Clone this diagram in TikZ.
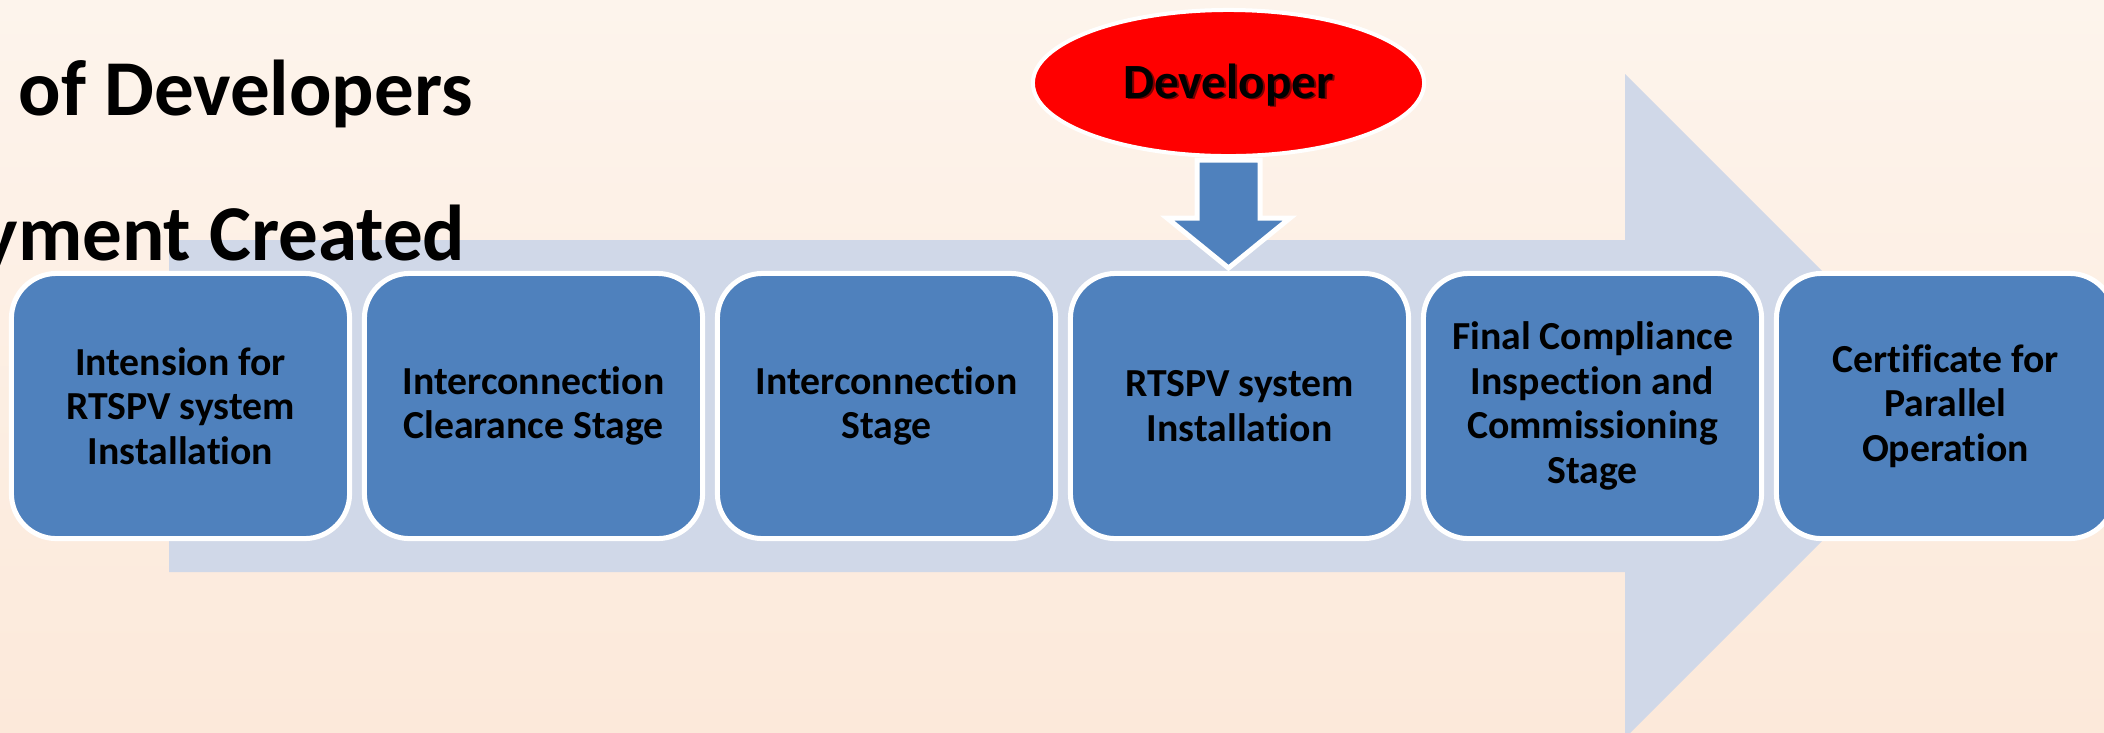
\documentclass[tikz,border=0pt]{standalone}
\usepackage{fontspec}
\setmainfont{Carlito}[Ligatures=NoCommon]
\usetikzlibrary{shapes.geometric,calc}
\definecolor{bgtop}{RGB}{253,244,236}
\definecolor{bgbot}{RGB}{252,233,218}
\definecolor{arrowbg}{RGB}{208,216,232}
\definecolor{boxblue}{RGB}{79,129,189}
\definecolor{shadowred}{RGB}{120,0,0}
\begin{document}
\begin{tikzpicture}[x=0.01cm,y=-0.01cm,
  stagebox/.style={rounded corners=0.45cm, fill=boxblue, draw=white, line width=0.05cm,
    minimum width=3.38cm, minimum height=2.65cm, inner sep=0pt, align=center,
    font=\fontsize{11.3}{12.7}\selectfont\bfseries, text=black},
  titletext/.style={font=\fontsize{22.5}{27}\selectfont\bfseries, inner sep=0pt, text=black},
  devnode/.style={ellipse, fill=red, draw=white, line width=0.04cm, minimum width=3.91cm,
    minimum height=1.46cm, inner sep=0pt},
  devtext/.style={font=\fontsize{14}{16}\selectfont\bfseries, inner sep=0pt},
  blockarrow/.style={fill=boxblue, draw=white, line width=0.05cm, line join=miter}
]
\useasboundingbox (0,0) rectangle (2104,732);
% background
\shade[top color=bgtop, bottom color=bgbot] (0,0) rectangle (2104,732);
% big process arrow
\fill[arrowbg] (169,240) -- (1625,240) -- (1625,74) -- (1957,406) -- (1625,738)
  -- (1625,572) -- (169,572) -- cycle;
% title fragments
\node[titletext, anchor=base west] (t1) at (18,115) {of Developers};
\node[titletext, anchor=base east] (t2) at (466,260) {yment Created};
% stages
\node[stagebox] (b1) at (180.5,406) {Intension for\\RTSPV system\\Installation};
\node[stagebox] (b2) at (533.5,406) {Interconnection\\Clearance Stage};
\node[stagebox] (b3) at (886.5,406) {Interconnection\\Stage};
\node[stagebox] (b4) at (1239.5,406) {RTSPV system\\Installation};
\node[stagebox] (b5) at (1592.5,406) {Final Compliance\\Inspection and\\Commissioning\\Stage};
\node[stagebox] (b6) at (1945.5,406) {Certificate for\\Parallel\\Operation};
% developer
\node[devnode] (dev) at (1228.5,83) {};
\node[devtext, text=shadowred] at ($(dev.center)+(2,3.5)$) {Developer};
\node[devtext, text=black] (devlabel) at ($(dev.center)+(0,2)$) {Developer};
% block arrow from developer to stage 4
\draw[blockarrow] (1197,160) -- (1260,160) -- (1260,218) -- (1290,218) -- (1228.5,268)
  -- (1167,218) -- (1197,218) -- cycle;
\end{tikzpicture}
\end{document}
